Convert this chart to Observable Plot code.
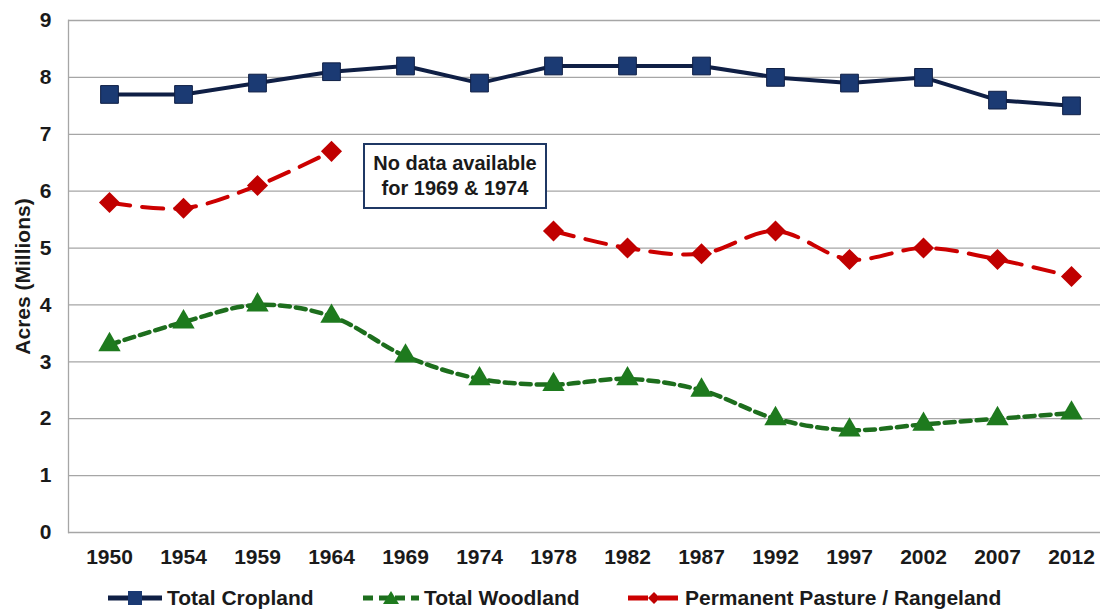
<!DOCTYPE html>
<html><head><meta charset="utf-8">
<script src="https://cdn.jsdelivr.net/npm/d3@7"></script>
<script src="https://cdn.jsdelivr.net/npm/@observablehq/plot@0.6"></script>
<style>
body{margin:0;background:#fff;font-family:"Liberation Sans",Arial,sans-serif;}
#wrap{position:relative;width:1100px;height:611px;overflow:hidden;background:#fff;}
#wrap svg text{font-weight:bold;}
#note{position:absolute;left:363px;top:143px;width:184px;height:66px;box-sizing:border-box;border:2px solid #1f3864;background:#fff;
 font-weight:bold;font-size:20px;line-height:25px;color:#1a1a1a;text-align:center;padding-top:6px;}
.leg{position:absolute;top:585px;height:26px;display:flex;align-items:center;font-weight:bold;font-size:21px;color:#1a1a1a;white-space:nowrap;}
.leg svg{display:block;margin-right:5px;}
</style></head><body><div id="wrap"></div>
<script>
const years = ["1950","1954","1959","1964","1969","1974","1978","1982","1987","1992","1997","2002","2007","2012"];
const cropland = [7.7,7.7,7.9,8.1,8.2,7.9,8.2,8.2,8.2,8.0,7.9,8.0,7.6,7.5];
const woodland = [3.3,3.7,4.0,3.8,3.1,2.7,2.6,2.7,2.5,2.0,1.8,1.9,2.0,2.1];
const pasture  = [5.8,5.7,6.1,6.7,null,null,5.3,5.0,4.9,5.3,4.8,5.0,4.8,4.5];
const seriesNames = ["Total Cropland","Total Woodland","Permanent Pasture / Rangeland"];
const yTicks = [0,1,2,3,4,5,6,7,8,9];
const noteLines = ["No data available","for 1969 & 1974"];

const cCrop = "#0f1f45", cCropM = "#1b3a73";
const cWood = "#1d6e1d", cWoodM = "#1e7a1e";
const cPast = "#cc0000", cPastM = "#c00000";

const rows = years.map((y,i)=>({year:y, cropland:cropland[i], woodland:woodland[i], pasture:pasture[i]}));
const pastRows = rows.filter(d=>d.pasture!=null);

const chart = Plot.plot({
  width:1100, height:575,
  marginLeft:68, marginRight:0, marginTop:20, marginBottom:43,
  style:{fontFamily:"Liberation Sans, Arial, sans-serif", background:"transparent", overflow:"visible"},
  x:{type:"point", domain:years, range:[70,1110], padding:0.5},
  y:{domain:[0,9]},
  marks:[
    Plot.ruleY(yTicks,{stroke:"#a6a6a6", strokeWidth:1.3}),
    Plot.frame({anchor:"left", stroke:"#a6a6a6", strokeWidth:1.3}),
    Plot.axisX({tickSize:0, tickPadding:17, fontSize:21, label:null, color:"#1a1a1a"}),
    Plot.axisY({ticks:yTicks, tickSize:0, tickPadding:17, fontSize:21, tickFormat:d=>String(d),
      label:"Acres (Millions)", labelAnchor:"center", labelOffset:53, labelArrow:"none", color:"#1a1a1a"}),
    // woodland
    Plot.lineY(rows,{x:"year", y:"woodland", stroke:cWood, strokeWidth:4.5, strokeDasharray:"10,6", curve:"catmull-rom"}),
    Plot.dot(rows,{x:"year", y:"woodland", symbol:"triangle", r:8.3, fill:cWoodM, stroke:"none"}),
    // pasture
    Plot.lineY(rows,{x:"year", y:"pasture", stroke:cPast, strokeWidth:4, strokeDasharray:"21,12", curve:"catmull-rom"}),
    Plot.dot(pastRows,{x:"year", y:"pasture", symbol:"diamond2", r:9.5, fill:cPastM, stroke:"none"}),
    // cropland
    Plot.lineY(rows,{x:"year", y:"cropland", stroke:cCrop, strokeWidth:4}),
    Plot.dot(rows,{x:"year", y:"cropland", symbol:"square", r:10, fill:cCropM, stroke:cCrop, strokeWidth:1})
  ]
});
const wrap = document.getElementById("wrap");
wrap.appendChild(chart);

const note = document.createElement("div");
note.id = "note";
note.innerHTML = noteLines.join("<br>");
wrap.appendChild(note);

// legend
const legSpecs = [
  {left:108, w:54, color:cCrop, mcolor:cCropM, dash:null, sym:"square", name:seriesNames[0]},
  {left:363, w:56, color:cWood, mcolor:cWoodM, dash:"10,6", sym:"triangle", name:seriesNames[1]},
  {left:628, w:52, color:cPast, mcolor:cPastM, dash:"20,10", sym:"diamond", name:seriesNames[2]}
];
legSpecs.forEach(s=>{
  const d = document.createElement("div");
  d.className = "leg";
  d.style.left = s.left + "px";
  const h = 26, cx = s.w/2, cy = h/2;
  let mk = "";
  if (s.sym==="square") mk = `<rect x="${cx-7}" y="${cy-7}" width="14" height="14" fill="${s.mcolor}"/>`;
  else if (s.sym==="triangle") mk = `<path d="M${cx},${cy-7}L${cx+8},${cy+6}L${cx-8},${cy+6}Z" fill="${s.mcolor}"/>`;
  else mk = `<path d="M${cx},${cy-6}L${cx+6},${cy}L${cx},${cy+6}L${cx-6},${cy}Z" fill="${s.mcolor}"/>`;
  d.innerHTML = `<svg width="${s.w}" height="${h}"><line x1="0" x2="${s.w}" y1="${cy}" y2="${cy}" stroke="${s.color}" stroke-width="5" ${s.dash?`stroke-dasharray="${s.dash}"`:""}/>${mk}</svg><span>${s.name}</span>`;
  wrap.appendChild(d);
});
</script>
</body></html>
